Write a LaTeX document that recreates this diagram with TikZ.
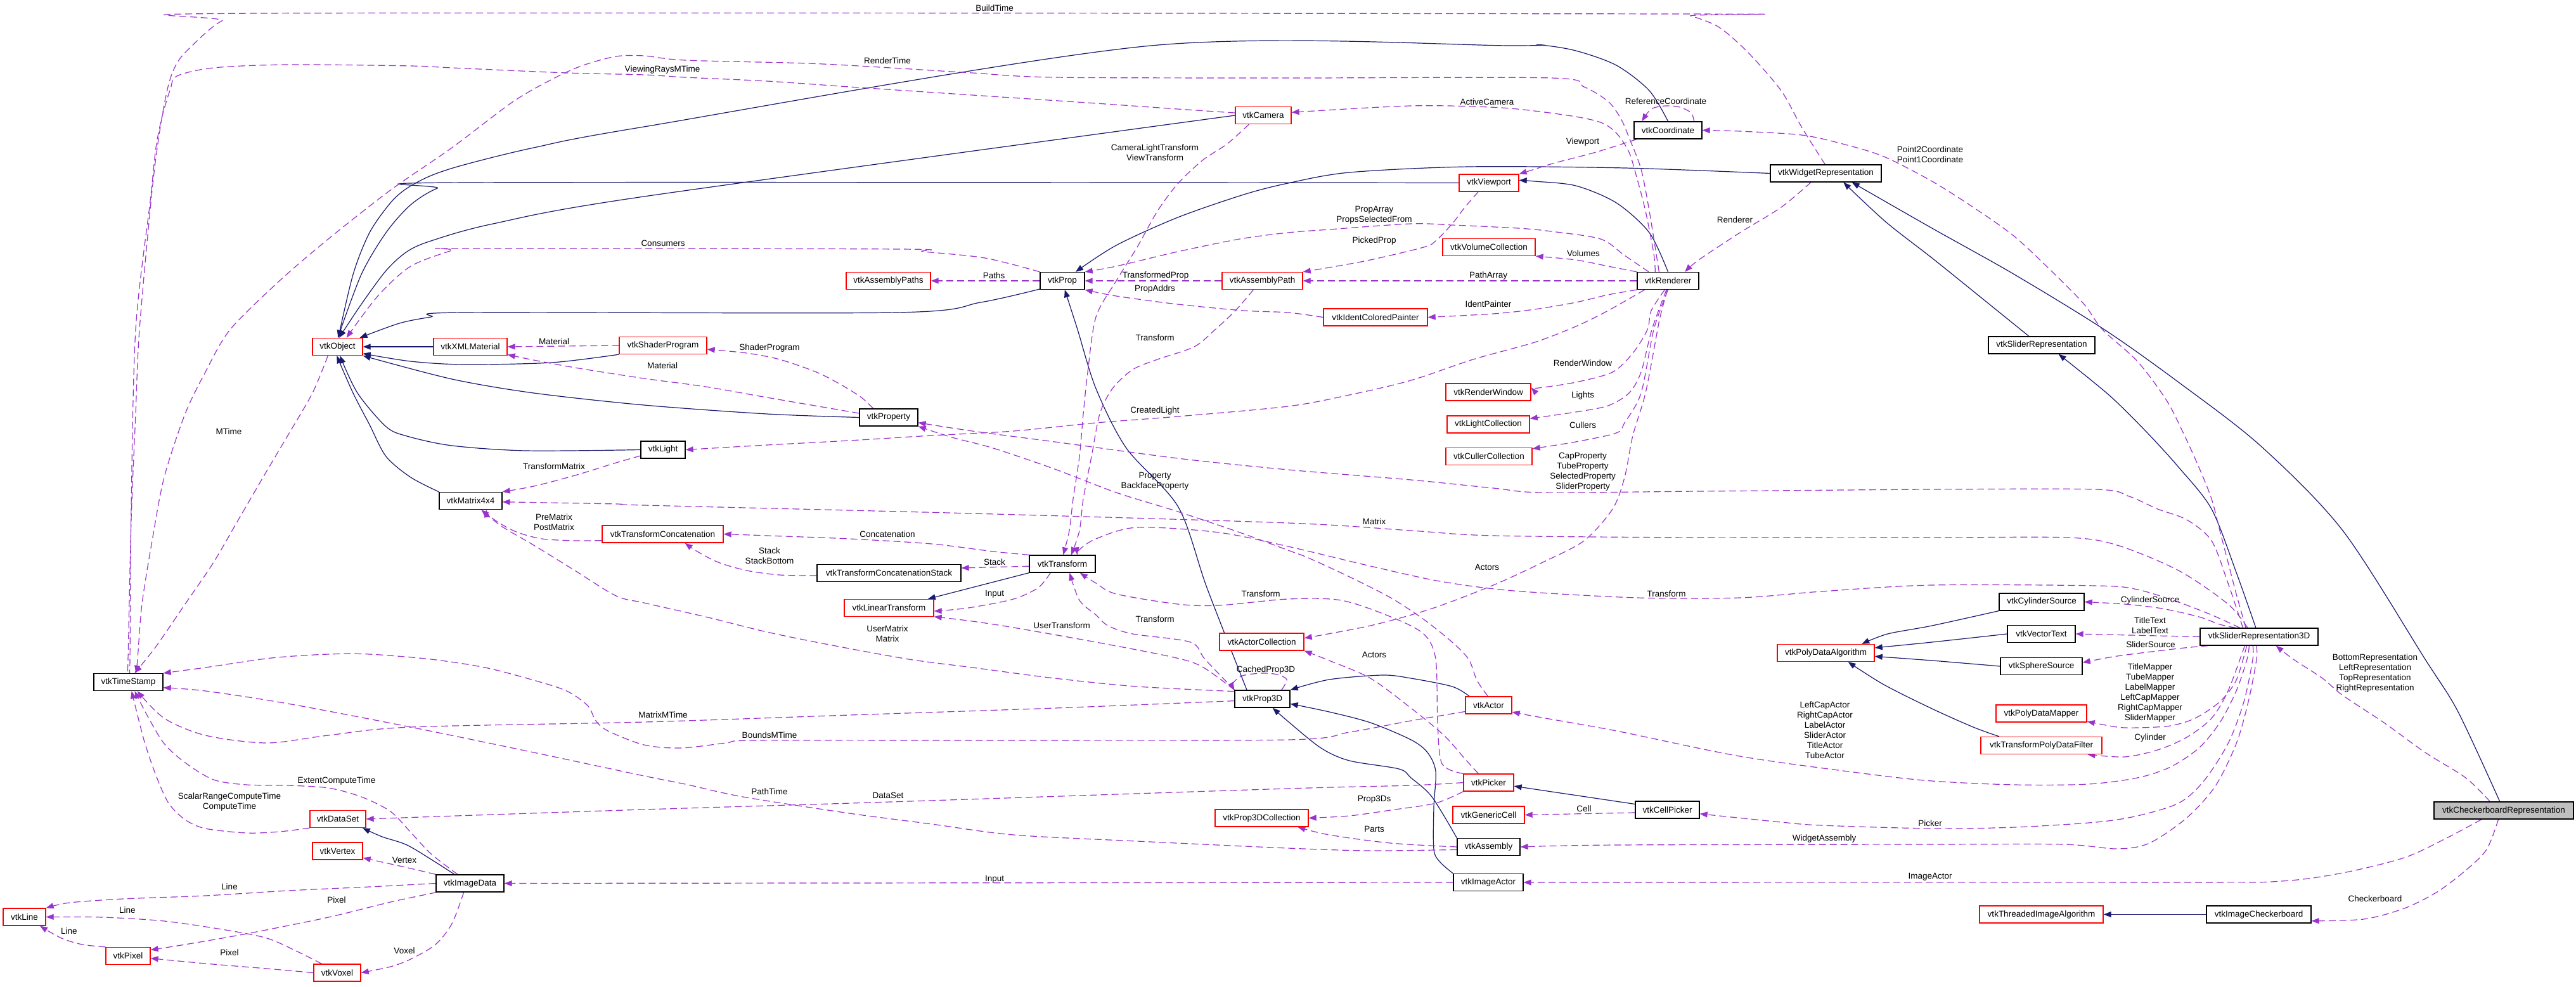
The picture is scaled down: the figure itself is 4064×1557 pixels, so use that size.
\documentclass[tikz,border=0pt]{standalone}
\usepackage{fontspec}
\setmainfont{Liberation Sans}
\usetikzlibrary{arrows.meta}
\definecolor{dxnavy}{HTML}{191970}
\definecolor{dxpur}{HTML}{9A32CD}
\definecolor{dxgray}{HTML}{BFBFBF}
\newcommand\dxfont{\fontsize{13.5}{16}\selectfont}
\newcommand\myedge[2]{\draw[#1] plot[smooth,tension=0.5] coordinates {#2};}
\pgfdeclarelayer{edgelayer}
\pgfsetlayers{edgelayer,main}
\tikzset{
 dxbox/.style={draw=black, line width=1.3pt, fill=white, minimum height=27pt, inner sep=0pt, font=\dxfont},
 dxrbox/.style={dxbox, draw=red},
 dxinh/.style={draw=dxnavy, line width=1.2pt, -{Triangle[length=12pt,width=9pt]}},
 dxuse/.style={draw=dxpur, line width=1.2pt, dash pattern=on 11pt off 6pt, -{Triangle[length=12pt,width=9pt]}},
 dxlbl/.style={font=\dxfont, inner sep=0pt, align=center, text=black},
}
\begin{document}
\begin{tikzpicture}[x=1pt,y=-1pt]
\useasboundingbox (0,0) rectangle (4064,1557);
% ---------------- nodes ----------------
\node[dxrbox, minimum width=79pt] (obj) at (532.5,547) {vtkObject};
\node[dxrbox, minimum width=116pt] (xml) at (742,547) {vtkXMLMaterial};
\node[dxrbox, minimum width=138pt] (shader) at (1046,545) {vtkShaderProgram};
\node[dxrbox, minimum width=88pt] (camera) at (1993,182) {vtkCamera};
\node[dxbox, minimum width=107pt] (coord) at (2631.5,205.5) {vtkCoordinate};
\node[dxrbox, minimum width=94pt] (viewport) at (2349,288.5) {vtkViewport};
\node[dxbox, minimum width=175pt] (widget) at (2880.5,273.5) {vtkWidgetRepresentation};
\node[dxrbox, minimum width=133pt] (paths) at (1401.5,443) {vtkAssemblyPaths};
\node[dxbox, minimum width=70pt] (prop) at (1676,443) {vtkProp};
\node[dxrbox, minimum width=127pt] (apath) at (1991.5,443) {vtkAssemblyPath};
\node[dxbox, minimum width=97pt] (renderer) at (2631.5,443) {vtkRenderer};
\node[dxrbox, minimum width=146pt] (volcoll) at (2349,390) {vtkVolumeCollection};
\node[dxrbox, minimum width=164pt] (painter) at (2170,500.5) {vtkIdentColoredPainter};
\node[dxbox, minimum width=92pt] (property) at (1402,658.5) {vtkProperty};
\node[dxbox, minimum width=70pt] (light) at (1046,709.5) {vtkLight};
\node[dxbox, minimum width=99pt] (matrix) at (742.5,790) {vtkMatrix4x4};
\node[dxrbox, minimum width=191pt] (tconcat) at (1045.5,842.5) {vtkTransformConcatenation};
\node[dxbox, minimum width=104pt] (transform) at (1676,889.5) {vtkTransform};
\node[dxbox, minimum width=227pt] (tstack) at (1402.5,904) {vtkTransformConcatenationStack};
\node[dxrbox, minimum width=141pt] (lintrans) at (1402.5,959) {vtkLinearTransform};
\node[dxrbox, minimum width=133pt] (actcoll) at (1990.5,1012.5) {vtkActorCollection};
\node[dxrbox, minimum width=134pt] (renwin) at (2348,618.5) {vtkRenderWindow};
\node[dxrbox, minimum width=130pt] (lightcoll) at (2348,669.5) {vtkLightCollection};
\node[dxrbox, minimum width=136pt] (cullcoll) at (2349,720) {vtkCullerCollection};
\node[dxrbox, minimum width=153pt] (pdalgo) at (2880.5,1030) {vtkPolyDataAlgorithm};
\node[dxbox, minimum width=168pt] (sliderrep) at (3221,544.5) {vtkSliderRepresentation};
\node[dxbox, minimum width=134pt] (cylsrc) at (3221,949.5) {vtkCylinderSource};
\node[dxbox, minimum width=107pt] (vectext) at (3220.5,1000) {vtkVectorText};
\node[dxbox, minimum width=186pt] (slider3d) at (3564,1004.5) {vtkSliderRepresentation3D};
\node[dxbox, minimum width=129pt] (sphsrc) at (3220.5,1051) {vtkSphereSource};
\node[dxrbox, minimum width=143pt] (pdmapper) at (3220.5,1125.5) {vtkPolyDataMapper};
\node[dxrbox, minimum width=191pt] (tpdf) at (3220.5,1176) {vtkTransformPolyDataFilter};
\node[dxbox, fill=dxgray, minimum width=220pt] (checkrep) at (3950,1278.5) {vtkCheckerboardRepresentation};
\node[dxrbox, minimum width=195pt] (threaded) at (3220.5,1442.5) {vtkThreadedImageAlgorithm};
\node[dxbox, minimum width=165pt] (imgcheck) at (3563.5,1442.5) {vtkImageCheckerboard};
\node[dxbox, minimum width=109pt] (timestamp) at (202.5,1076) {vtkTimeStamp};
\node[dxrbox, minimum width=88pt] (dataset) at (533,1292) {vtkDataSet};
\node[dxrbox, minimum width=79pt] (vertex) at (532.5,1342.5) {vtkVertex};
\node[dxbox, minimum width=107pt] (imagedata) at (741.5,1393.5) {vtkImageData};
\node[dxrbox, minimum width=67pt] (line) at (38.5,1446.5) {vtkLine};
\node[dxrbox, minimum width=70pt] (pixel) at (202,1508) {vtkPixel};
\node[dxrbox, minimum width=74pt] (voxel) at (532,1534.5) {vtkVoxel};
\node[dxbox, minimum width=87pt] (prop3d) at (1991.5,1102.5) {vtkProp3D};
\node[dxrbox, minimum width=147pt] (p3dcoll) at (1990.5,1290.5) {vtkProp3DCollection};
\node[dxrbox, minimum width=73pt] (actor) at (2348.5,1112.5) {vtkActor};
\node[dxrbox, minimum width=79pt] (picker) at (2348.5,1234.5) {vtkPicker};
\node[dxrbox, minimum width=113pt] (gencell) at (2348.5,1285.5) {vtkGenericCell};
\node[dxbox, minimum width=101pt] (cellpicker) at (2630.5,1277.5) {vtkCellPicker};
\node[dxbox, minimum width=99pt] (assembly) at (2348.5,1336) {vtkAssembly};
\node[dxbox, minimum width=110pt] (imageactor) at (2348,1392) {vtkImageActor};
% ---------------- labels ----------------
\node[dxlbl] (l01) at (1569,13) {BuildTime};
\node[dxlbl] (l02) at (1045,110) {ViewingRaysMTime};
\node[dxlbl] (l03) at (1400,96) {RenderTime};
\node[dxlbl] (l04) at (2346,161) {ActiveCamera};
\node[dxlbl] (l05) at (2628,160) {ReferenceCoordinate};
\node[dxlbl] (l06) at (2497,224) {Viewport};
\node[dxlbl] (l07) at (3045,244) {Point2Coordinate\\Point1Coordinate};
\node[dxlbl] (l08) at (1822,241) {CameraLightTransform\\ViewTransform};
\node[dxlbl] (l09) at (1046,384) {Consumers};
\node[dxlbl] (l10) at (1568,435) {Paths};
\node[dxlbl] (l11) at (1823,435) {TransformedProp};
\node[dxlbl] (l12) at (1822,456) {PropAddrs};
\node[dxlbl] (l13) at (2168,339) {PropArray\\PropsSelectedFrom};
\node[dxlbl] (l14) at (2168,380) {PickedProp};
\node[dxlbl] (l15) at (2498,400) {Volumes};
\node[dxlbl] (l16) at (2348,435) {PathArray};
\node[dxlbl] (l17) at (2348,480) {IdentPainter};
\node[dxlbl] (l18) at (2737,347) {Renderer};
\node[dxlbl] (l19) at (874,539) {Material};
\node[dxlbl] (l20) at (1045,577) {Material};
\node[dxlbl] (l21) at (1214,549) {ShaderProgram};
\node[dxlbl] (l22) at (1822,533) {Transform};
\node[dxlbl] (l23) at (2497,573) {RenderWindow};
\node[dxlbl] (l24) at (2497,624) {Lights};
\node[dxlbl] (l25) at (2497,671) {Cullers};
\node[dxlbl] (l26) at (1822,648) {CreatedLight};
\node[dxlbl] (l27) at (361,681) {MTime};
\node[dxlbl] (l28) at (874,736) {TransformMatrix};
\node[dxlbl] (l29) at (2497,744) {CapProperty\\TubeProperty\\SelectedProperty\\SliderProperty};
\node[dxlbl] (l30) at (1822,759) {Property\\BackfaceProperty};
\node[dxlbl] (l31) at (2168,823) {Matrix};
\node[dxlbl] (l32) at (874,824) {PreMatrix\\PostMatrix};
\node[dxlbl] (l33) at (1400,843) {Concatenation};
\node[dxlbl] (l34) at (1214,877) {Stack\\StackBottom};
\node[dxlbl] (l35) at (1569,887) {Stack};
\node[dxlbl] (l36) at (2346,895) {Actors};
\node[dxlbl] (l37) at (2629,937) {Transform};
\node[dxlbl] (l38) at (1569,937) {Input};
\node[dxlbl] (l39) at (1989,937) {Transform};
\node[dxlbl] (l40) at (1822,977) {Transform};
\node[dxlbl] (l41) at (1675,987) {UserTransform};
\node[dxlbl] (l42) at (1400,1000) {UserMatrix\\Matrix};
\node[dxlbl] (l43) at (2168,1033) {Actors};
\node[dxlbl] (l44) at (3392,947) {CylinderSource};
\node[dxlbl] (l45) at (3392,987) {TitleText\\LabelText};
\node[dxlbl] (l46) at (3393,1017) {SliderSource};
\node[dxlbl] (l47) at (3747,1062) {BottomRepresentation\\LeftRepresentation\\TopRepresentation\\RightRepresentation};
\node[dxlbl] (l48) at (1997,1057) {CachedProp3D};
\node[dxlbl] (l49) at (1046,1128) {MatrixMTime};
\node[dxlbl] (l50) at (1214,1160) {BoundsMTime};
\node[dxlbl] (l51) at (3392,1093) {TitleMapper\\TubeMapper\\LabelMapper\\LeftCapMapper\\RightCapMapper\\SliderMapper};
\node[dxlbl] (l52) at (2879,1152) {LeftCapActor\\RightCapActor\\LabelActor\\SliderActor\\TitleActor\\TubeActor};
\node[dxlbl] (l53) at (3392,1164) {Cylinder};
\node[dxlbl] (l54) at (531,1232) {ExtentComputeTime};
\node[dxlbl] (l55) at (362,1264.5) {ScalarRangeComputeTime\\ComputeTime};
\node[dxlbl] (l56) at (1214,1249) {PathTime};
\node[dxlbl] (l57) at (1401,1255) {DataSet};
\node[dxlbl] (l58) at (2168,1261) {Prop3Ds};
\node[dxlbl] (l59) at (2499,1276) {Cell};
\node[dxlbl] (l60) at (3045,1299) {Picker};
\node[dxlbl] (l61) at (2168,1308) {Parts};
\node[dxlbl] (l62) at (2878,1323) {WidgetAssembly};
\node[dxlbl] (l63) at (638,1357) {Vertex};
\node[dxlbl] (l64) at (362,1399) {Line};
\node[dxlbl] (l65) at (1569,1387) {Input};
\node[dxlbl] (l66) at (3045,1383) {ImageActor};
\node[dxlbl] (l67) at (531,1420) {Pixel};
\node[dxlbl] (l68) at (201,1436) {Line};
\node[dxlbl] (l69) at (3747,1418) {Checkerboard};
\node[dxlbl] (l70) at (109,1469) {Line};
\node[dxlbl] (l71) at (638,1500) {Voxel};
\node[dxlbl] (l72) at (362,1503) {Pixel};
% ---------------- edges ----------------
\begin{pgfonlayer}{edgelayer}
\fill[white] (0,0) rectangle (4064,1557);
% inheritance
\myedge{dxinh}{(coord.north) (2602,143) (2550,103) (2486,80) (2430,71) (2386,72) (1816,72) (1016,200) (842,233) (732,260) (680,277) (642,297) (616,320) (583,367) (557,433) (obj.85)}
\myedge{dxinh}{(camera.west) (1016,310) (778,353) (680,380) (642,397) (609,427) (570,480) (obj.80)}
\myedge{dxinh}{(viewport.west) (739,288) (690,297) (648,323) (609,367) (570,433) (obj.88)}
\myedge{dxinh}{(prop.200) (1547,477) (1414,493) (732,493) (680,500) (630,510) (obj.22)}
\draw[dxinh] (xml.west) -- (obj.east);
\myedge{dxinh}{(shader.south west) (870,572) (732,575) (648,570) (obj.-15)}
\myedge{dxinh}{(property.west) (1210,653) (1016,639) (842,620) (713,598) (obj.south east)}
\myedge{dxinh}{(light.west) (830,711) (713,703) (642,688) (609,673) (564,620) (obj.-75)}
\myedge{dxinh}{(matrix.north west) (648,753) (609,720) (583,670) (557,620) (obj.-95)}
\draw[dxinh] (transform.south west) -- (lintrans.13);
\myedge{dxinh}{(prop3d.150) (1904,927) (1859,800) (1777,707) (1729,613) (1700,520) (prop.-75)}
\myedge{dxinh}{(actor.155) (2291,1083) (2226,1070) (2181,1065) (2097,1072) (prop3d.north east)}
\myedge{dxinh}{(assembly.north west) (2259,1257) (2226,1227) (2207,1213) (2129,1200) (2084,1180) (2032,1138) (prop3d.-41)}
\myedge{dxinh}{(imageactor.north west) (2272,1360) (2262,1340) (2262,1273) (2265,1217) (2252,1187) (2226,1167) (2162,1140) (2097,1123) (prop3d.-10)}
\draw[dxinh] (cellpicker.170) -- (picker.-8);
\myedge{dxinh}{(sliderrep.145) (3120,465) (3048,407) (2975,350) (widget.-27)}
\myedge{dxinh}{(checkrep.114) (3878,1123) (3826,1040) (3696,837) (3566,703) (3437,603) (3320,520) (3178,433) (3048,360) (widget.-19)}
\myedge{dxinh}{(slider3d.110) (3528,903) (3489,803) (3437,737) (3385,680) (3327,623) (sliderrep.-28)}
\myedge{dxinh}{(cylsrc.south west) (3048,987) (2978,1000) (pdalgo.14)}
\myedge{dxinh}{(vectext.west) (3048,1013) (pdalgo.6)}
\myedge{dxinh}{(sphsrc.west) (3048,1042) (pdalgo.-4)}
\myedge{dxinh}{(tpdf.168) (3113,1147) (3048,1118) (2972,1080) (pdalgo.-22)}
\draw[dxinh] (imgcheck.west) -- (threaded.east);
\myedge{dxinh}{(imagedata.150) (687,1360) (642,1333) (603,1320) (dataset.-20)}
\myedge{dxinh}{(renderer.north) (2602,367) (2550,320) (2486,293) (2421,286) (viewport.5)}
\myedge{dxinh}{(widget.west) (2563,265) (2317,263) (2129,272) (2032,289) (1962,307) (1858,343) (1761,387) (prop.34)}
% usage
\myedge{dxuse}{(widget.95) (2842,200) (2810,143) (2758,83) (2712,43) (2667,25) (2641,22) (415,21) (350,33) (298,77) (279,100) (266,133) (253,200) (240,300) (220,520) (214,653) (207,820) (202,1040) (timestamp.97)}
\myedge{dxuse}{(camera.175) (1858,172) (1729,163) (1534,150) (1340,137) (1210,128) (1081,122) (1016,118) (894,115) (713,107) (648,104) (454,102) (337,107) (279,120) (269,140) (256,183) (246,233) (237,317) (214,520) (207,800) (205,1040) (timestamp.86)}
\myedge{dxuse}{(renderer.135) (2602,333) (2589,267) (2570,217) (2557,187) (2537,160) (2499,137) (2447,123) (2032,123) (1664,122) (1534,115) (1405,107) (1275,100) (1081,95) (1016,88) (972,89) (920,103) (875,123) (810,160) (713,233) (616,300) (518,377) (441,443) (363,520) (324,587) (292,653) (259,753) (240,853) (224,953) (217,1040) (timestamp.50)}
\myedge{dxuse}{(obj.-137) (493,620) (454,687) (415,753) (376,820) (337,887) (292,953) (246,1020) (timestamp.55)}
\myedge{dxuse}{(renderer.145) (2609,400) (2596,333) (2583,283) (2570,240) (2550,210) (2525,193) (2473,182) (2369,170) (2226,167) (camera.6)}
\myedge{dxuse}{(coord.19) (2668,178) (2650,169) (2628,167) (2605,172) (coord.161)}
\myedge{dxuse}{(coord.196) (2518,240) (2453,257) (2421,267) (viewport.north east)}
\myedge{dxuse}{(slider3d.146) (3528,937) (3515,887) (3502,837) (3489,787) (3469,737) (3443,680) (3417,630) (3372,570) (3317,520) (3288,480) (3242,433) (3178,373) (3113,327) (3048,286) (2972,247) (2907,227) (2842,213) (2745,207) (coord.east)}
\myedge{dxuse}{(widget.211) (2810,327) (2745,367) (2680,410) (renderer.28)}
\myedge{dxuse}{(renderer.155) (2563,403) (2525,377) (2447,365) (2395,360) (2291,355) (2226,353) (2097,362) (2032,367) (1956,377) (1858,397) (1761,420) (prop.north east)}
\myedge{dxuse}{(viewport.220) (2311,327) (2291,353) (2265,380) (2246,390) (2162,410) (2097,422) (apath.north east)}
\myedge{dxuse}{(renderer.north west) (2537,420) (2486,410) (volcoll.south east)}
\draw[dxuse] (renderer.west) -- (apath.east);
\myedge{dxuse}{(renderer.south west) (2537,465) (2486,477) (2421,488) (2356,495) (painter.east)}
\draw[dxuse] (apath.west) -- (prop.east);
\myedge{dxuse}{(painter.west) (2032,493) (1962,490) (1858,480) (1761,467) (prop.south east)}
\draw[dxuse] (prop.west) -- (paths.east);
\myedge{dxuse}{(prop.north west) (1554,407) (1457,397) (1418,393) (732,392) (713,395) (648,420) (596,467) (obj.45)}
\myedge{dxuse}{(camera.212) (1936,227) (1897,253) (1858,290) (1826,333) (1794,390) (1761,443) (1729,500) (1716,587) (1709,653) (1703,720) (1693,787) (1687,837) (transform.85)}
\myedge{dxuse}{(apath.225) (1949,490) (1917,520) (1884,547) (1826,567) (1787,583) (1755,613) (1735,653) (1722,720) (1709,787) (1703,837) (transform.45)}
\myedge{dxuse}{(property.150) (1359,627) (1327,607) (1288,587) (1230,567) (1178,557) (shader.-5)}
\draw[dxuse] (shader.west) -- (xml.east);
\myedge{dxuse}{(property.172) (1210,627) (1113,610) (1016,597) (907,580) (842,568) (xml.-12)}
\myedge{dxuse}{(light.195) (972,730) (907,750) (842,767) (matrix.north east)}
\myedge{dxuse}{(tconcat.186) (907,853) (855,850) (817,840) (791,827) (771,813) (matrix.-30)}
\myedge{dxuse}{(transform.north west) (1567,870) (1470,858) (1340,850) (1210,845) (tconcat.east)}
\myedge{dxuse}{(tstack.182) (1230,907) (1178,900) (1133,887) (1100,870) (tconcat.-22)}
\draw[dxuse] (transform.184) -- (tstack.4);
\myedge{dxuse}{(transform.217) (1638,927) (1599,945) (1534,958) (1490,963) (lintrans.-4)}
\myedge{dxuse}{(prop3d.north west) (1897,1052) (1852,1037) (1729,1013) (1599,990) (1534,980) (lintrans.-11)}
\myedge{dxuse}{(prop3d.165) (1794,1083) (1664,1070) (1534,1053) (1434,1040) (1308,1017) (1210,997) (1113,973) (1016,951) (972,940) (907,900) (842,860) (791,830) (matrix.-40)}
\myedge{dxuse}{(prop3d.north west) (1901,1040) (1878,1013) (1787,1000) (1748,987) (1729,970) (1703,947) (transform.-51)}
\myedge{dxuse}{(picker.north west) (2275,1205) (2268,1140) (2265,1040) (2246,1000) (2194,973) (2116,947) (2032,945) (1923,955) (1858,953) (1761,937) (1729,920) (transform.-27)}
\myedge{dxuse}{(actor.95) (2330,1073) (2317,1040) (2291,1013) (2246,977) (2194,943) (2129,910) (2064,880) (2032,868) (1956,840) (1858,807) (1761,777) (1664,740) (1567,707) (1502,690) (property.south east)}
\myedge{dxuse}{(slider3d.151) (3515,920) (3489,853) (3450,820) (3404,803) (3359,783) (3307,772) (3048,772) (2680,775) (2434,777) (2356,770) (2226,757) (2032,741) (1858,723) (1664,697) (1534,680) (property.-10)}
\myedge{dxuse}{(slider3d.142) (3515,953) (3437,900) (3340,860) (3262,848) (3048,848) (2680,848) (2356,845) (2226,837) (2032,825) (1534,810) (1016,797) (972,795) (matrix.-2)}
\myedge{dxuse}{(slider3d.155) (3489,970) (3437,950) (3372,930) (3307,924) (3048,923) (2874,933) (2745,943) (2583,943) (2388,932) (2272,917) (2162,893) (2032,862) (1923,840) (1794,832) (1729,850) (1703,867) (transform.31)}
\myedge{dxuse}{(renderer.-95) (2619,500) (2615,520) (2596,620) (2576,687) (2563,753) (2544,803) (2499,853) (2434,887) (2356,923) (2259,960) (2162,987) (actcoll.5)}
\myedge{dxuse}{(renderer.-110) (2605,490) (2599,520) (2576,557) (2544,587) (2486,603) (2427,612) (renwin.6)}
\myedge{dxuse}{(renderer.-100) (2606,520) (2589,587) (2570,620) (2537,640) (2486,650) (lightcoll.8)}
\myedge{dxuse}{(renderer.-90) (2609,520) (2589,620) (2563,667) (2550,683) (2486,697) (cullcoll.10)}
\myedge{dxuse}{(renderer.201) (2537,490) (2486,515) (2421,540) (2324,567) (2226,600) (2129,623) (2032,641) (1858,657) (1729,667) (1599,680) (1470,687) (1340,695) (1210,702) (light.east)}
\myedge{dxuse}{(picker.139) (2311,1197) (2278,1160) (2226,1117) (2162,1070) (2097,1042) (actcoll.south east)}
\myedge{dxuse}{(picker.west) (2226,1239) (2032,1244) (1405,1265) (1016,1277) (778,1285) (dataset.east)}
\myedge{dxuse}{(picker.south west) (2265,1267) (2194,1278) (2129,1287) (p3dcoll.east)}
\myedge{dxuse}{(assembly.west) (2194,1330) (2097,1317) (p3dcoll.-14)}
\myedge{dxuse}{(assembly.-175) (2162,1342) (2032,1338) (1794,1327) (1599,1317) (1470,1300) (1340,1283) (1172,1257) (1081,1237) (1016,1224) (842,1187) (648,1147) (454,1110) (324,1090) (timestamp.-9)}
\myedge{dxuse}{(prop3d.-176) (1664,1117) (1340,1128) (1016,1139) (648,1147) (518,1160) (421,1172) (324,1160) (259,1133) (timestamp.-45)}
\myedge{dxuse}{(actor.195) (2226,1137) (2129,1155) (2032,1167) (1534,1168) (1191,1168) (1146,1172) (1074,1180) (1016,1175) (959,1153) (940,1137) (927,1113) (894,1090) (842,1073) (765,1053) (680,1040) (583,1032) (518,1032) (428,1038) (324,1053) (timestamp.north east)}
\myedge{dxuse}{(imagedata.144) (680,1347) (648,1313) (616,1280) (570,1257) (518,1243) (454,1239) (389,1238) (337,1230) (292,1203) (259,1173) (233,1130) (timestamp.-55)}
\myedge{dxuse}{(dataset.south west) (441,1312) (389,1314) (324,1307) (292,1293) (266,1267) (246,1223) (227,1167) (timestamp.-70)}
\draw[dxuse] (imageactor.west) -- (imagedata.east);
\myedge{dxuse}{(imagedata.west) (583,1399) (454,1405) (324,1413) (194,1418) (110,1424) (line.north east)}
\myedge{dxuse}{(imagedata.195) (616,1423) (518,1447) (389,1473) (292,1490) (pixel.15)}
\myedge{dxuse}{(voxel.150) (467,1500) (421,1480) (356,1467) (259,1453) (162,1447) (line.east)}
\myedge{dxuse}{(pixel.north west) (130,1490) (97,1480) (line.-30)}
\myedge{dxuse}{(voxel.west) (421,1528) (324,1520) (pixel.-6)}
\myedge{dxuse}{(imagedata.north west) (648,1370) (603,1360) (vertex.-15)}
\myedge{dxuse}{(imagedata.235) (713,1457) (687,1490) (648,1513) (616,1525) (voxel.east)}
\draw[dxuse] (cellpicker.-175) -- (gencell.east);
\myedge{dxuse}{(slider3d.235) (3554,1040) (3540,1107) (3515,1173) (3476,1233) (3437,1267) (3372,1287) (3307,1297) (3178,1305) (3048,1307) (2874,1302) (2810,1297) (cellpicker.-7)}
\myedge{dxuse}{(slider3d.253) (3560,1040) (3547,1107) (3528,1173) (3495,1240) (3450,1290) (3391,1330) (3340,1339) (3255,1332) (3048,1332) (2550,1333) (assembly.east)}
\myedge{dxuse}{(slider3d.222) (3545,1040) (3528,1090) (3502,1140) (3469,1180) (3424,1210) (3372,1227) (3294,1237) (3178,1238) (3048,1232) (2939,1220) (2745,1193) (2550,1153) (2421,1130) (actor.-16)}
\myedge{dxuse}{(slider3d.216) (3528,1073) (3502,1107) (3463,1133) (3424,1145) (3372,1148) (3340,1147) (pdmapper.-10)}
\myedge{dxuse}{(slider3d.212) (3515,1090) (3489,1133) (3450,1163) (3404,1183) (3352,1194) (tpdf.-11)}
\myedge{dxuse}{(slider3d.159) (3502,985) (3469,973) (3411,960) (3352,953) (cylsrc.east)}
\draw[dxuse] (slider3d.west) -- (vectext.east);
\myedge{dxuse}{(slider3d.190) (3437,1023) (3340,1035) (sphsrc.5)}
\myedge{dxuse}{(checkrep.147) (3890,1227) (3826,1187) (3761,1140) (3696,1097) (3664,1070) (3618,1040) (slider3d.-28)}
\myedge{dxuse}{(checkrep.202) (3858,1323) (3793,1353) (3696,1377) (3599,1390) (3437,1392) (imageactor.east)}
\myedge{dxuse}{(checkrep.239) (3923,1340) (3890,1373) (3845,1407) (3793,1433) (3729,1450) (imgcheck.-7)}
\myedge{dxuse}{(prop3d.25) (2030,1072) (2015,1064) (1990,1062) (1960,1066) (1945,1078) (prop3d.north west)}
\end{pgfonlayer}
\end{tikzpicture}
\end{document}
